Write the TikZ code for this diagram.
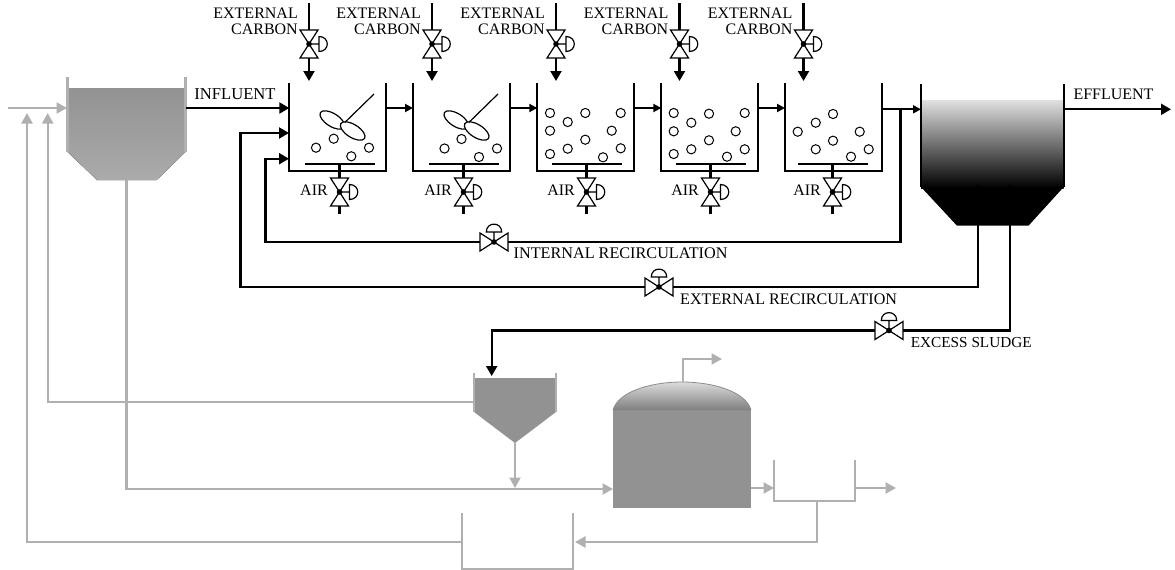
\documentclass[tikz,border=0pt]{standalone}
\usepackage{fontspec}
\setmainfont{Liberation Serif}
\usetikzlibrary{arrows.meta}
\definecolor{pgray}{HTML}{B0B0B0}
\definecolor{tankgray}{HTML}{929292}
\tikzset{
  x=1pt,y=-1pt,
  lbl/.style={inner sep=0pt,font=\fontsize{16}{16}\selectfont},
  bline/.style={line width=2.1pt,black},
  gline/.style={line width=2.2pt,pgray},
  bwall/.style={line width=2.1pt,black,line join=miter},
  gwall/.style={line width=2.2pt,pgray,line join=miter},
  bigarr/.style={-{Triangle[length=10pt,width=11pt]}},
  smallarr/.style={-{Triangle[length=8pt,width=8pt]}},
  garr/.style={-{Triangle[length=10.5pt,width=11pt]}},
  valveline/.style={line width=1.2pt,black,fill=white,line join=miter},
  bubble/.style={line width=1pt,black,fill=white},
  blade/.style={line width=1.2pt,black,fill=white},
  vvalve/.pic={
    \draw[valveline] (-9,-14) -- (9,-14) -- (-9,14) -- (9,14) -- cycle;
    \draw[valveline] (0,0) -- (10,0) (10,-7.5) .. controls (21,-7.5) and (21,7.5) .. (10,7.5) -- cycle;
    \fill (0,0) circle [radius=2.8pt];
    \coordinate (-top) at (0,-14);
    \coordinate (-bot) at (0,14);
  },
  hvalve/.pic={
    \draw[valveline] (-14,-9) -- (14,9) -- (14,-9) -- (-14,9) -- cycle;
    \draw[valveline] (0,0) -- (0,-10) (-7.7,-10) .. controls (-7.7,-20.5) and (7.7,-20.5) .. (7.7,-10) -- cycle;
    \fill (0,0) circle [radius=2.8pt];
    \coordinate (-l) at (-14,0);
    \coordinate (-r) at (14,0);
  }
}
\begin{document}
\begin{tikzpicture}
\useasboundingbox (0,0) rectangle (1175,570);
% primary clarifier
\fill[top color=tankgray,bottom color=black!33] (67.5,88) -- (185.5,88) -- (185.5,152) -- (156.7,180) -- (97,180) -- (67.5,152) -- cycle;
\draw[gwall] (67.5,77) -- (67.5,152);
\draw[gwall] (185.5,77) -- (185.5,152);
\coordinate (pcin) at (67,108);
\coordinate (pcout) at (185.5,108);
\coordinate (pcbot) at (126.5,180);
\coordinate (feed) at (8,108);
% reactors
\foreach \n/\l in {1/289.3,2/413,3/537.3,4/661.3,5/785}{
  \draw[bwall] (\l,83) -- (\l,170.7) -- (\l+97,170.7) -- (\l+97,83);
  \coordinate (tin\n) at (\l,108);
  \coordinate (tout\n) at (\l+97,108);
}
% diffusers and air valves
\foreach \n/\c in {1/339.5,2/463.5,3/586.5,4/710.5,5/832.5}{
  \coordinate (bar\n) at (\c,164);
  \pic (air\n) at (\c,192) {vvalve};
  \coordinate (airend\n) at (\c,214);
  \draw[bline] (\c-35,164) -- (\c+35,164);
  \draw[bline] (bar\n) -- (air\n-top);
  \draw[bline] (air\n-bot) -- (airend\n);
  \node[lbl,anchor=east] (airlbl\n) at (\c-11.5,190.5) {AIR};
}
% external carbon
\foreach \n/\c in {1/309,2/432,3/556,4/679.5,5/803.5}{
  \coordinate (cs\n) at (\c,3);
  \coordinate (ce\n) at (\c,81);
  \pic (car\n) at (\c,44) {vvalve};
  \draw[bline] (cs\n) -- (car\n-top);
  \draw[bline,bigarr] (car\n-bot) -- (ce\n);
  \node[lbl,anchor=east] (ca\n) at (\c-11,13) {EXTERNAL};
  \node[lbl,anchor=east] (cb\n) at (\c-11,29) {CARBON};
}
% stirrers
\foreach \n/\dx in {1/0,2/124}{
  \begin{scope}[xshift=\dx pt]
    \draw[blade,shift={(332.3,120)},rotate=-32] (0,0) ellipse [x radius=14pt,y radius=6.5pt];
    \draw[blade,shift={(352.7,131)},rotate=-32] (0,0) ellipse [x radius=14pt,y radius=6.5pt];
    \draw[line width=1.2pt] (345,122.3) -- (374,94);
  \end{scope}
}
% bubbles
\foreach \p in {(316,147.7),(333.7,138.7),(369,147.7),(351.3,156.3),
  (444.5,148.5),(461.5,139),(497,148.5),(479,157),
  (550,113),(567.7,122),(585.3,113),(620.7,113),(550,130.7),(611.7,130.7),(585.3,139.7),(550,154),(567.7,148.7),(603,157.3),(620.7,148.3),
  (673.7,113),(691.3,122.7),(709,113.7),(744.7,113),(673.7,131.3),(735.7,131.3),(709,140.3),(673.7,154),(691.3,149.3),(727,156.7),(744.7,149.3),
  (797.7,131.7),(815.7,122.7),(833,114),(859.7,131.7),(833,140.7),(815.7,149.3),(851,156.7),(868.7,149.3)}{
  \draw[bubble] \p circle [radius=4.6pt];
}
% secondary clarifier
\fill[top color=black!12,bottom color=black] (921,100) rectangle (1063.7,188);
\fill[black] (921,187) -- (1063.7,187) -- (1028.5,225.7) -- (957,225.7) -- cycle;
\draw[bwall] (921,84) -- (921,187);
\draw[bwall] (1063.7,84) -- (1063.7,187);
\coordinate (scin) at (921,109.3);
\coordinate (scout) at (1063.7,109.3);
\coordinate (sca) at (978,185);
\coordinate (scb) at (1010.3,185);
\coordinate (t5x) at (882,109.3);
\coordinate (eff) at (1171,109.3);
% main flows
\draw[bline,bigarr] (pcout) -- (tin1);
\draw[bline,smallarr] (tout1) -- (tin2);
\draw[bline,smallarr] (tout2) -- (tin3);
\draw[bline,smallarr] (tout3) -- (tin4);
\draw[bline,smallarr] (tout4) -- (tin5);
\draw[bline,smallarr] (t5x) -- (scin);
\draw[bline,bigarr] (scout) -- (eff);
% internal recirculation
\coordinate (j) at (900.5,109.3);
\coordinate (i1) at (900.5,242);
\coordinate (i2) at (265.5,242);
\coordinate (i3) at (265.5,158.7);
\coordinate (i4) at (289,158.7);
\pic (vi) at (494,242) {hvalve};
\draw[bline] (j) -- (i1) -- (vi-r);
\draw[bline,bigarr] (vi-l) -- (i2) -- (i3) -- (i4);
% external recirculation
\coordinate (e1) at (978,287);
\coordinate (e2) at (240.5,287);
\coordinate (e3) at (240.5,133);
\coordinate (e4) at (289,133);
\pic (ve) at (659,287) {hvalve};
\draw[bline] (sca) -- (e1) -- (ve-r);
\draw[bline,bigarr] (ve-l) -- (e2) -- (e3) -- (e4);
% excess sludge
\coordinate (x1) at (1010.3,330.5);
\coordinate (x2) at (491.7,330.5);
\coordinate (x3) at (491.7,376);
\pic (vx) at (889,330.5) {hvalve};
\draw[bline] (scb) -- (x1) -- (vx-r);
\draw[bline,bigarr] (vx-l) -- (x2) -- (x3);
% thickener
\fill[tankgray] (474,378) -- (556,378) -- (556,412) -- (515,443) -- (474,412) -- cycle;
\draw[gwall] (474,373) -- (474,412);
\draw[gwall] (556,373) -- (556,412);
\coordinate (thl) at (474,402);
\coordinate (thb) at (515,443);
\coordinate (thm) at (515,488);
% digester
\fill[tankgray] (613,410) rectangle (751,508);
\shade[top color=black!14,bottom color=black!50] (613,410) .. controls (618,392) and (650,382) .. (682,382) .. controls (714,382) and (746,392) .. (751,410) -- cycle;
\draw[line width=.8pt,black!45] (613,410) .. controls (618,392) and (650,382) .. (682,382) .. controls (714,382) and (746,392) .. (751,410);
\coordinate (dgtop) at (683,382);
\coordinate (dg1) at (683,359);
\coordinate (dg2) at (722,359);
\coordinate (dgin) at (613,489);
\coordinate (dgout) at (751,488);
% tank A
\draw[gwall] (774,460) -- (774,501) -- (855,501) -- (855,460);
\coordinate (tain) at (774,488);
\coordinate (taout) at (855,488);
\coordinate (taend) at (896,488);
\coordinate (tab) at (817,501);
\coordinate (ta1) at (817,542);
% tank B
\draw[gwall] (462,513) -- (462,569) -- (573,569) -- (573,513);
\coordinate (tbin) at (575,542);
\coordinate (tbl) at (462,542);
% gray flows
\coordinate (g1) at (27,542);
\coordinate (g2) at (27,113);
\coordinate (g3) at (47.7,402);
\coordinate (g4) at (47.7,113);
\coordinate (g5) at (126.5,489);
\draw[gline,garr] (feed) -- (pcin);
\draw[gline,garr] (tbl) -- (g1) -- (g2);
\draw[gline,garr] (thl) -- (g3) -- (g4);
\draw[gline,garr] (pcbot) -- (g5) -- (dgin);
\draw[gline,garr] (thb) -- (thm);
\draw[gline,garr] (dgtop) -- (dg1) -- (dg2);
\draw[gline,garr] (dgout) -- (tain);
\draw[gline,garr] (taout) -- (taend);
\draw[gline,garr] (tab) -- (ta1) -- (tbin);
% labels
\node[lbl,font=\fontsize{16.6}{16.6}\selectfont] (inf) at (235,94) {INFLUENT};
\node[lbl] (eflbl) at (1113.5,94) {EFFLUENT};
\node[lbl,font=\fontsize{16.2}{16.2}\selectfont,anchor=west] (ir) at (513.5,253) {INTERNAL RECIRCULATION};
\node[lbl,font=\fontsize{16.1}{16.1}\selectfont,anchor=west] (er) at (680,299.5) {EXTERNAL RECIRCULATION};
\node[lbl,font=\fontsize{15.25}{15.25}\selectfont,anchor=west] (ex) at (910.7,342.5) {EXCESS SLUDGE};
\end{tikzpicture}
\end{document}
